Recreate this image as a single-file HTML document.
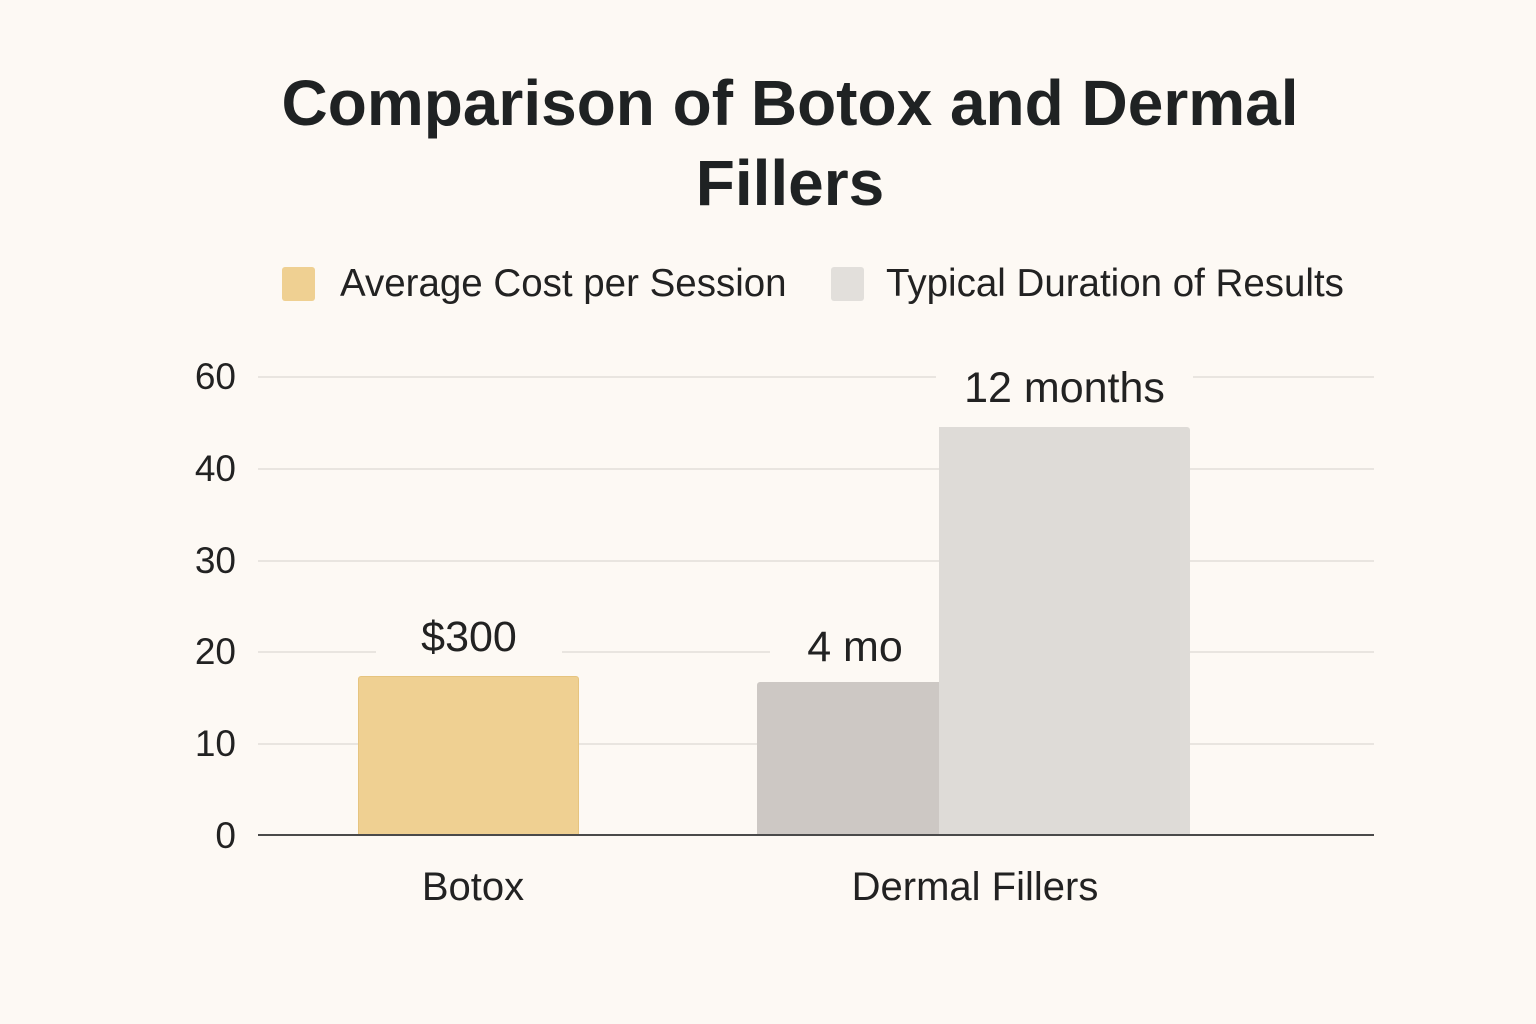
<!DOCTYPE html>
<html><head><style>
body{margin:0;width:1536px;height:1024px;background:#fdf9f4;font-family:"Liberation Sans","DejaVu Sans",sans-serif;color:#222;position:relative;overflow:hidden}
.a{position:absolute}
.t{position:absolute;left:0;width:1580px;text-align:center;font-weight:bold;font-size:64px;color:#1f2223}
.g{position:absolute;left:258px;width:1116px;height:2px;background:#e9e5e0}
.yl{position:absolute;width:236px;text-align:right;font-size:37px;left:0;line-height:40px}
.lab{position:absolute;text-align:center;font-size:43px;background:#fdf9f4;line-height:50px}
.bar{position:absolute;z-index:2}
</style></head><body>
<div class="t" style="top:66px">Comparison of Botox and Dermal</div>
<div class="t" style="top:146px">Fillers</div>
<div class="a" style="left:282px;top:267px;width:33px;height:34px;background:#efd092;border-radius:3px"></div>
<div class="a" style="left:340px;top:262px;font-size:38.5px">Average Cost per Session</div>
<div class="a" style="left:831px;top:267px;width:33px;height:34px;background:#e2dfdb;border-radius:3px"></div>
<div class="a" style="left:886px;top:262px;font-size:38.5px">Typical Duration of Results</div>
<div class="g" style="top:376px"></div>
<div class="g" style="top:468px"></div>
<div class="g" style="top:560px"></div>
<div class="g" style="top:651px"></div>
<div class="g" style="top:743px"></div>
<div class="yl" style="top:357px">60</div>
<div class="yl" style="top:449px">40</div>
<div class="yl" style="top:541px">30</div>
<div class="yl" style="top:632px">20</div>
<div class="yl" style="top:724px">10</div>
<div class="yl" style="top:816px">0</div>
<div class="lab" style="left:376px;width:186px;top:612px">$300</div>
<div class="lab" style="left:770px;width:170px;top:622px">4 mo</div>
<div class="lab" style="left:936px;width:257px;top:363px">12 months</div>
<div class="bar" style="left:358px;top:676px;width:221px;height:159px;background:#efd092;border:1px solid #e6c47f;box-sizing:border-box;border-radius:3px 3px 0 0"></div>
<div class="bar" style="left:757px;top:682px;width:183px;height:153px;background:#cdc8c4;border-radius:3px 0 0 0"></div>
<div class="bar" style="left:939px;top:427px;width:251px;height:408px;background:#dedbd7;border-radius:0 3px 0 0"></div>
<div class="a" style="left:258px;top:834px;width:1116px;height:2px;background:#4a4a4a;z-index:3"></div>
<div class="a" style="left:373px;width:200px;text-align:center;top:865px;font-size:40px">Botox</div>
<div class="a" style="left:825px;width:300px;text-align:center;top:865px;font-size:40px">Dermal Fillers</div>
</body></html>
